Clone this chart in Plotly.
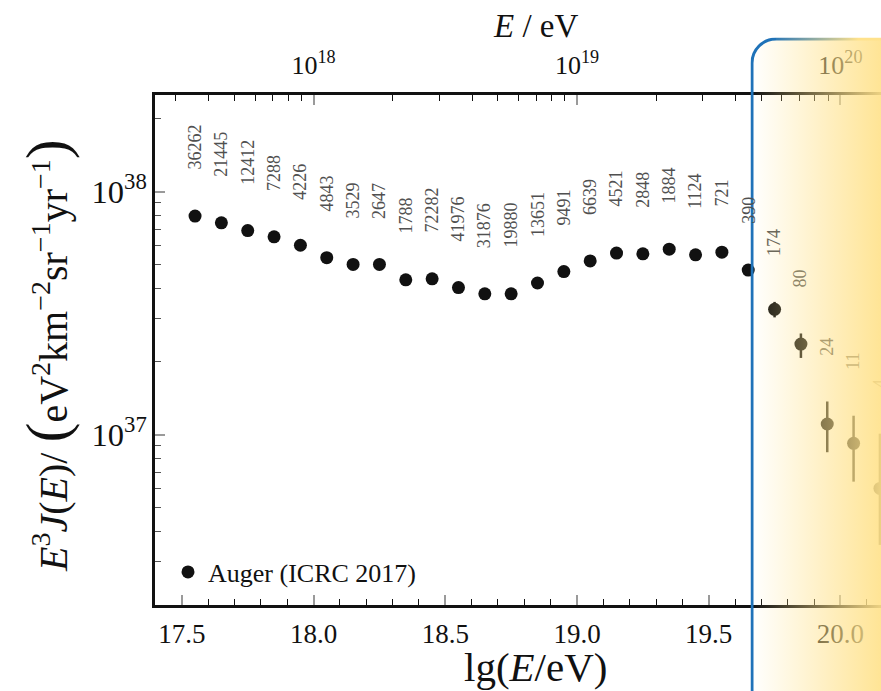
import base64
import math
import plotly.graph_objects as go

# Auger combined spectrum (ICRC 2017): bin centres in lg(E/eV), E^3 J(E), event counts
lg_energy = [17.55, 17.65, 17.75, 17.85, 17.95, 18.05, 18.15, 18.25, 18.35, 18.45, 18.55,
             18.65, 18.75, 18.85, 18.95, 19.05, 19.15, 19.25, 19.35, 19.45, 19.55, 19.65]
flux = [7.94e37, 7.45e37, 6.92e37, 6.52e37, 6.02e37, 5.35e37, 5.02e37, 5.02e37, 4.34e37,
        4.38e37, 4.03e37, 3.80e37, 3.80e37, 4.21e37, 4.69e37, 5.19e37, 5.59e37, 5.55e37,
        5.80e37, 5.50e37, 5.64e37, 4.76e37]
events = [36262, 21445, 12412, 7288, 4226, 4843, 3529, 2647, 1788, 72282, 41976,
          31876, 19880, 13651, 9491, 6639, 4521, 2848, 1884, 1124, 721, 390]

# highest-energy bins with visible statistical uncertainties
lg_energy_tail = [19.75, 19.85, 19.95, 20.05, 20.15]
flux_tail = [3.28e37, 2.36e37, 1.107e37, 9.22e36, 6.01e36]
flux_tail_up = [0.24e37, 0.25e37, 0.263e37, 0.275e37, 4.09e36]
flux_tail_down = [0.24e37, 0.29e37, 0.26e37, 0.281e37, 2.49e36]
events_tail = [174, 80, 24, 11, 4]

top_tick_values = [1e18, 1e19, 1e20]

# ---- page geometry ----
FIG_W, FIG_H = 881, 691
M_L, M_R, M_T, M_B = 155, 0, 95, 86
PLOT_W = FIG_W - M_L - M_R
PLOT_H = FIG_H - M_T - M_B
X_RANGE = [17.398, 20.154]
Y_RANGE = [36.2992, 38.398]

SERIF = "Liberation Serif, Times New Roman, serif"
INK = "#111111"
LABEL_GREY = (80, 80, 80)
GOLD = (255, 226, 140)
BLUE = "#1f72b8"

# highlighted band over the suppression region (pixel coordinates)
PANEL_X = 752          # x of the blue edge
PANEL_TOP = 39         # y of the top edge
PANEL_R = 24           # corner radius
PANEL_ALPHA = 0.92     # opacity of the gold wash at the right edge of the page


def x_to_px(x):
    return M_L + (x - X_RANGE[0]) / (X_RANGE[1] - X_RANGE[0]) * PLOT_W


def wash_alpha(px):
    t = (px - PANEL_X) / (FIG_W - PANEL_X)
    return PANEL_ALPHA * min(max(t, 0.0), 1.0)


def washed(rgb, px):
    a = wash_alpha(px)
    c = [round(v * (1 - a) + g * a) for v, g in zip(rgb, GOLD)]
    return "rgb({},{},{})".format(*c)


def px_to_paper_y(py):
    return (FIG_H - M_B - py) / PLOT_H


# gradient panel drawn as an SVG overlay
sw = 3
img_w = FIG_W - PANEL_X + sw / 2
img_h = FIG_H - PANEL_TOP + sw / 2
h = sw / 2
gold_hex = "#%02x%02x%02x" % GOLD
svg = f"""<svg xmlns='http://www.w3.org/2000/svg' width='{img_w}' height='{img_h}' viewBox='0 0 {img_w} {img_h}' preserveAspectRatio='none'>
<defs>
<linearGradient id='wash' gradientUnits='userSpaceOnUse' x1='{h}' y1='0' x2='{img_w}' y2='0'>
<stop offset='0' stop-color='{gold_hex}' stop-opacity='0'/>
<stop offset='1' stop-color='{gold_hex}' stop-opacity='{PANEL_ALPHA}'/>
</linearGradient>
<linearGradient id='edge' gradientUnits='userSpaceOnUse' x1='{PANEL_R*0.8}' y1='0' x2='{PANEL_R*4.5}' y2='0'>
<stop offset='0' stop-color='{BLUE}'/>
<stop offset='1' stop-color='{gold_hex}'/>
</linearGradient>
</defs>
<path d='M {h} {img_h} L {h} {PANEL_R+h} A {PANEL_R} {PANEL_R} 0 0 1 {PANEL_R+h} {h} L {img_w} {h} L {img_w} {img_h} Z' fill='url(#wash)'/>
<path d='M {PANEL_R+h} {h} L {img_w} {h}' stroke='url(#edge)' stroke-width='{sw}' fill='none'/>
<path d='M {h} {img_h} L {h} {PANEL_R+h} A {PANEL_R} {PANEL_R} 0 0 1 {PANEL_R+h} {h}' stroke='{BLUE}' stroke-width='{sw}' fill='none'/>
</svg>"""
svg_uri = "data:image/svg+xml;base64," + base64.b64encode(svg.encode()).decode()

fig = go.Figure()

fig.add_trace(go.Scatter(
    x=lg_energy, y=flux, mode="markers", name="Auger (ICRC 2017)",
    legendgroup="auger",
    marker=dict(color=INK, size=13, line=dict(width=0)),
    hoverinfo="skip",
))
fig.add_trace(go.Scatter(
    x=lg_energy_tail, y=flux_tail, mode="markers", showlegend=False,
    legendgroup="auger",
    marker=dict(color=INK, size=13, line=dict(width=0)),
    error_y=dict(type="data", symmetric=False, array=flux_tail_up,
                 arrayminus=flux_tail_down, thickness=2.5, width=0, color=INK),
    hoverinfo="skip",
))
# carrier for the energy axis on top
fig.add_trace(go.Scatter(
    x=[top_tick_values[0]], y=[flux[0]], xaxis="x2", mode="markers",
    marker=dict(opacity=0), showlegend=False, hoverinfo="skip",
))

# event counts above each bin
annotations = []
for x, y, up, n in zip(lg_energy + lg_energy_tail,
                       flux + flux_tail,
                       [0.0] * len(flux) + flux_tail_up,
                       events + events_tail):
    annotations.append(dict(
        x=x, y=math.log10(y + up), xref="x", yref="y",
        text=str(n), showarrow=False, textangle=-90,
        xanchor="center", yanchor="bottom", yshift=44,
        font=dict(family=SERIF, size=18, color=washed(LABEL_GREY, x_to_px(x))),
    ))

# axis titles
annotations.append(dict(
    x=(535 - M_L) / PLOT_W, y=px_to_paper_y(667), xref="paper", yref="paper",
    text="lg(<i>E</i>/eV)", showarrow=False, xanchor="center", yanchor="middle",
    font=dict(family=SERIF, size=41, color=INK),
))
annotations.append(dict(
    x=(535 - M_L) / PLOT_W, y=px_to_paper_y(26), xref="paper", yref="paper",
    text="<i>E</i> / eV", showarrow=False, xanchor="center", yanchor="middle",
    font=dict(family=SERIF, size=33, color=INK),
))
annotations.append(dict(
    x=(47 - M_L) / PLOT_W, y=px_to_paper_y(356), xref="paper", yref="paper",
    text=("<i>E</i><sup>3</sup><i>J</i>(<i>E</i>)/ "
          "<span style='font-size:60px'>(</span>eV<sup>2</sup>km<sup>\u22122</sup>"
          "sr<sup>\u22121</sup>yr<sup>\u22121</sup><span style='font-size:60px'>)</span>"),
    showarrow=False, textangle=-90, xanchor="center", yanchor="middle",
    font=dict(family=SERIF, size=40, color=INK),
))

fig.update_layout(
    template="none",
    width=FIG_W, height=FIG_H,
    margin=dict(l=M_L, r=M_R, t=M_T, b=M_B, pad=0),
    paper_bgcolor="white", plot_bgcolor="white",
    font=dict(family=SERIF, color=INK),
    showlegend=True,
    legend=dict(x=13 / PLOT_W, y=px_to_paper_y(572), xanchor="left", yanchor="middle",
                bgcolor="rgba(0,0,0,0)", borderwidth=0,
                font=dict(family=SERIF, size=26, color=INK)),
    xaxis=dict(
        range=X_RANGE, tick0=17.5, dtick=0.5, tickformat=".1f",
        ticks="inside", ticklen=10, tickwidth=1.5, tickcolor="#9a9a9a",
        minor=dict(ticks="inside", ticklen=6, tickwidth=1.2, tickcolor=INK, dtick=0.1, tick0=17.5),
        showline=True, linecolor=INK, linewidth=3, mirror=False,
        showgrid=False, zeroline=False, automargin=False,
        tickfont=dict(family=SERIF, size=27, color=INK), ticklabelstandoff=3,
    ),
    xaxis2=dict(
        type="log", range=X_RANGE, overlaying="x", side="top", anchor="y",
        tickmode="array", tickvals=top_tick_values,
        ticktext=["10<sup>%d</sup>" % round(math.log10(v)) for v in top_tick_values],
        ticks="inside", ticklen=10, tickwidth=1.5, tickcolor="#9a9a9a",
        minor=dict(ticks="inside", ticklen=6, tickwidth=1.2, tickcolor=INK, dtick="D1"),
        showline=True, linecolor=INK, linewidth=3,
        showgrid=False, zeroline=False, automargin=False,
        tickfont=dict(family=SERIF, size=26, color=INK), ticklabelstandoff=8,
    ),
    yaxis=dict(
        type="log", range=Y_RANGE, dtick=1, exponentformat="power",
        ticks="inside", ticklen=10, tickwidth=1.5, tickcolor="#9a9a9a",
        minor=dict(ticks="inside", ticklen=6, tickwidth=1.2, tickcolor="#555555", dtick="D1"),
        showline=True, linecolor=INK, linewidth=3, mirror=False,
        showgrid=False, zeroline=False, automargin=False,
        tickfont=dict(family=SERIF, size=26, color=INK), ticklabelstandoff=0,
    ),
    annotations=annotations,
    images=[dict(
        source=svg_uri, xref="paper", yref="paper",
        x=(PANEL_X - sw / 2 - M_L) / PLOT_W,
        y=px_to_paper_y(PANEL_TOP - sw / 2),
        sizex=img_w / PLOT_W, sizey=img_h / PLOT_H,
        xanchor="left", yanchor="top", sizing="stretch", layer="above",
    )],
)

fig.write_html("out.html")
